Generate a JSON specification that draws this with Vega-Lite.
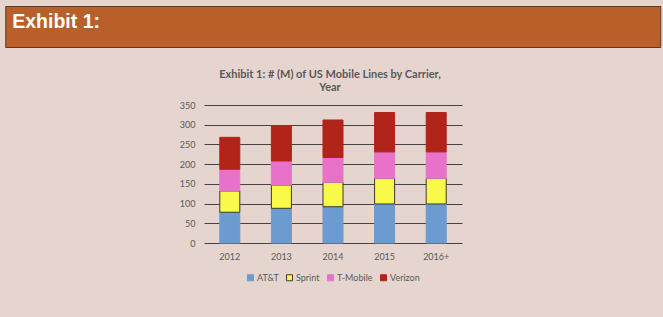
{
  "$schema": "https://vega.github.io/schema/vega-lite/v6.json",
  "background": "#e6d5cf",
  "padding": {"left": 4, "top": 5, "right": 4, "bottom": 34},
  "spacing": 21,
  "center": true,
  "config": {
    "view": {"stroke": null},
    "font": "Lato",
    "legend": {"layout": {"bottom": {"anchor": "middle"}}}
  },
  "vconcat": [
    {
      "width": 655,
      "height": 41,
      "view": {"fill": "#b9602a", "stroke": "#5a3a22"},
      "data": {"values": [{"label": "Exhibit 1:"}]},
      "mark": {
        "type": "text",
        "align": "left",
        "baseline": "alphabetic",
        "font": "Liberation Sans",
        "fontSize": 19.5,
        "fontWeight": "bold",
        "color": "#ffffff"
      },
      "encoding": {
        "text": {"field": "label"},
        "x": {"value": 7},
        "y": {"value": 22}
      }
    },
    {
      "width": 258,
      "height": 138,
      "title": {
        "text": ["Exhibit 1: # (M) of US Mobile Lines by Carrier,", "Year"],
        "font": "Lato",
        "fontSize": 11,
        "fontWeight": "bold",
        "color": "#595959",
        "lineHeight": 13,
        "offset": 8,
        "dx": -3
      },
      "data": {
        "values": [
          {"year": "2012", "carrier": "AT&T", "lines": 78},
          {"year": "2012", "carrier": "Sprint", "lines": 54},
          {"year": "2012", "carrier": "T-Mobile", "lines": 55},
          {"year": "2012", "carrier": "Verizon", "lines": 81},
          {"year": "2013", "carrier": "AT&T", "lines": 88},
          {"year": "2013", "carrier": "Sprint", "lines": 59},
          {"year": "2013", "carrier": "T-Mobile", "lines": 61},
          {"year": "2013", "carrier": "Verizon", "lines": 90},
          {"year": "2014", "carrier": "AT&T", "lines": 92},
          {"year": "2014", "carrier": "Sprint", "lines": 62},
          {"year": "2014", "carrier": "T-Mobile", "lines": 63},
          {"year": "2014", "carrier": "Verizon", "lines": 95},
          {"year": "2015", "carrier": "AT&T", "lines": 99},
          {"year": "2015", "carrier": "Sprint", "lines": 65},
          {"year": "2015", "carrier": "T-Mobile", "lines": 67},
          {"year": "2015", "carrier": "Verizon", "lines": 100},
          {"year": "2016+", "carrier": "AT&T", "lines": 99},
          {"year": "2016+", "carrier": "Sprint", "lines": 65},
          {"year": "2016+", "carrier": "T-Mobile", "lines": 67},
          {"year": "2016+", "carrier": "Verizon", "lines": 100}
        ]
      },
      "mark": {"type": "bar", "strokeWidth": 1},
      "encoding": {
        "x": {
          "field": "year",
          "type": "ordinal",
          "scale": {"paddingInner": 0.612, "paddingOuter": 0.306},
          "axis": {
            "title": null,
            "domain": false,
            "ticks": false,
            "labelAngle": 0,
            "labelPadding": 9,
            "labelFontSize": 9,
            "labelColor": "#595959",
            "labelFont": "Lato"
          }
        },
        "y": {
          "field": "lines",
          "type": "quantitative",
          "aggregate": "sum",
          "stack": "zero",
          "scale": {"domain": [0, 350], "nice": false},
          "axis": {
            "title": null,
            "values": [0, 50, 100, 150, 200, 250, 300, 350],
            "domain": false,
            "ticks": false,
            "labelPadding": 9,
            "labelFontSize": 9,
            "labelColor": "#595959",
            "labelFont": "Lato",
            "gridColor": "#4a4242",
            "gridWidth": 1,
            "gridOpacity": 1
          }
        },
        "color": {
          "field": "carrier",
          "type": "nominal",
          "scale": {
            "domain": ["AT&T", "Sprint", "T-Mobile", "Verizon"],
            "range": ["#6b9bd1", "#f9f94a", "#e872c9", "#b1241a"]
          },
          "legend": {
            "title": null,
            "orient": "bottom",
            "direction": "horizontal",
            "symbolType": "square",
            "symbolSize": 36,
            "symbolStrokeWidth": 1,
            "labelOffset": 2,
            "columnPadding": 5,
            "labelFontSize": 9,
            "labelColor": "#595959",
            "labelFont": "Lato",
            "offset": 12
          }
        },
        "stroke": {
          "field": "carrier",
          "type": "nominal",
          "scale": {
            "domain": ["AT&T", "Sprint", "T-Mobile", "Verizon"],
            "range": ["#6b9bd1", "#3a3a2a", "#e872c9", "#b1241a"]
          },
          "legend": {
            "title": null,
            "orient": "bottom",
            "direction": "horizontal",
            "symbolType": "square",
            "symbolSize": 36,
            "symbolStrokeWidth": 1,
            "labelOffset": 2,
            "columnPadding": 5,
            "labelFontSize": 9,
            "labelColor": "#595959",
            "labelFont": "Lato",
            "offset": 12
          }
        },
        "order": {"field": "carrier", "sort": "ascending"}
      }
    }
  ]
}
